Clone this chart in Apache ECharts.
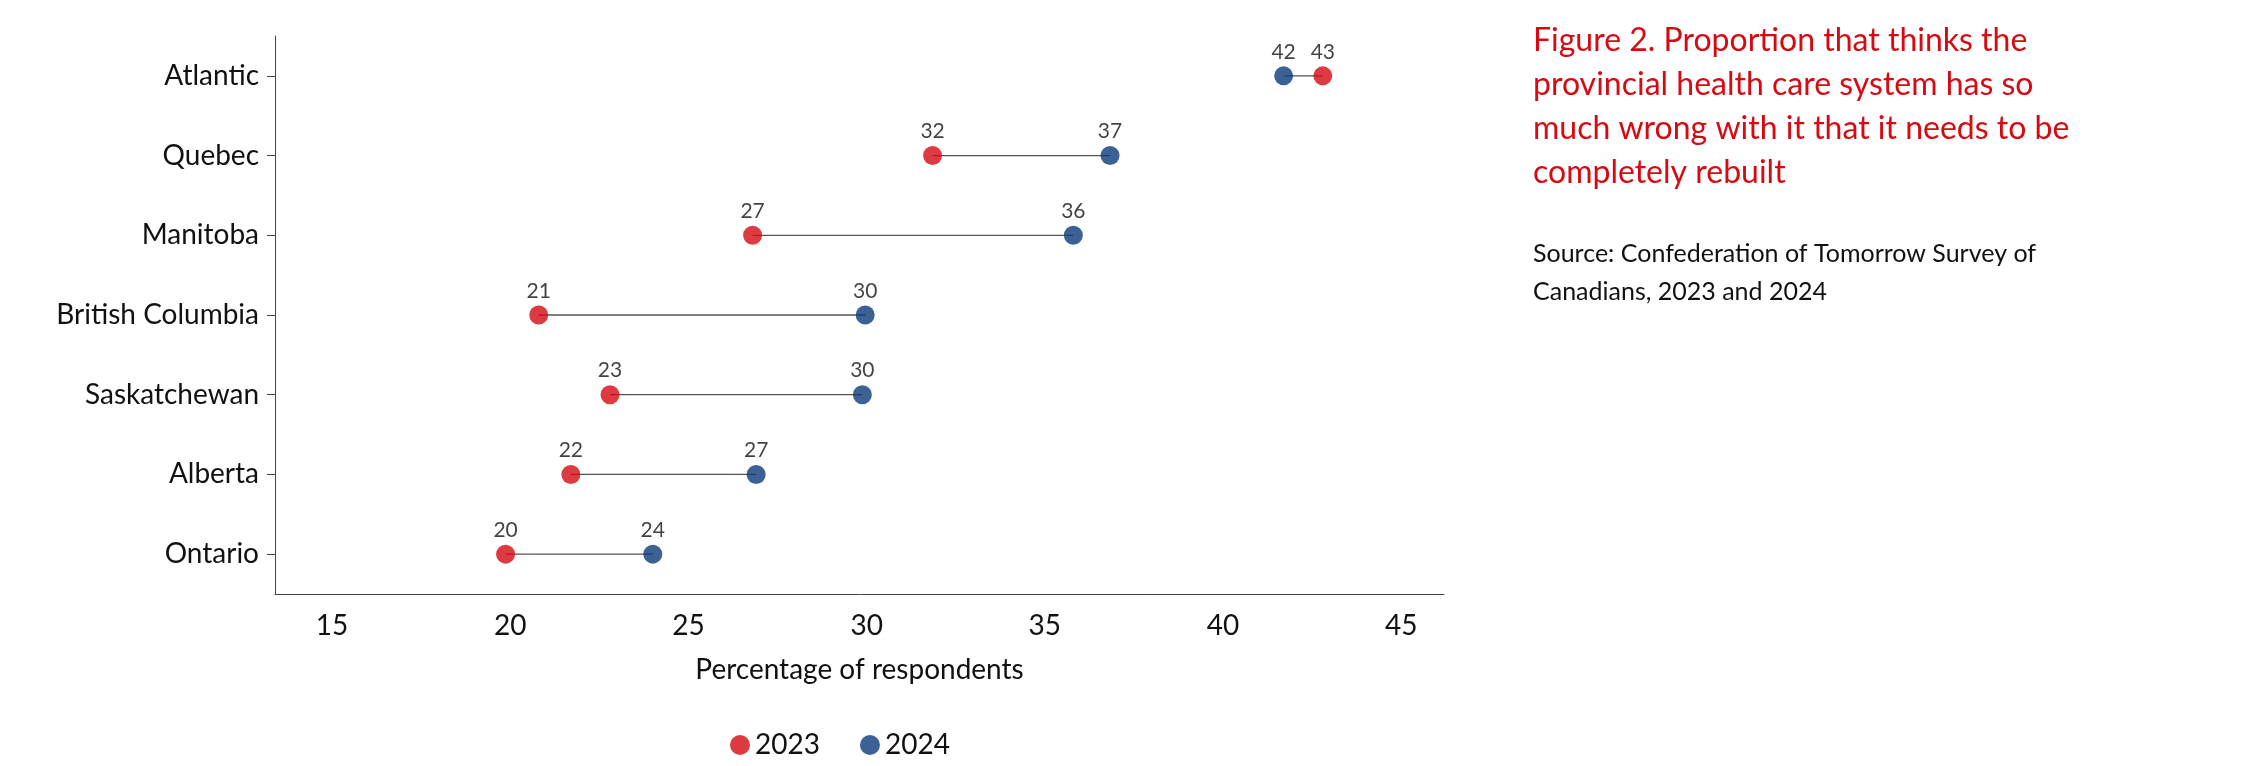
<!DOCTYPE html>
<html><head><meta charset="utf-8">
<script src="https://cdn.jsdelivr.net/npm/echarts@6/dist/echarts.min.js"></script>
<style>html,body{margin:0;padding:0;background:#fff}#c{width:2246px;height:766px}</style>
</head><body><div id="c"></div>
<script>
const categories = ['Atlantic','Quebec','Manitoba','British Columbia','Saskatchewan','Alberta','Ontario'];
const values2023 = [42.8, 31.85, 26.8, 20.8, 22.8, 21.7, 19.87];
const values2024 = [41.7, 36.83, 35.8, 29.96, 29.88, 26.9, 24.0];
const labels2023 = [43, 32, 27, 21, 23, 22, 20];
const labels2024 = [42, 37, 36, 30, 30, 27, 24];
const xTicks = [15, 20, 25, 30, 35, 40, 45];

const font = 'Lato';
const red = '#d50a12', blue = '#0a3a7a';
const series = categories.map((c, i) => ({
  type: 'line', data: [[values2023[i], c], [values2024[i], c]],
  symbol: 'none', silent: true, lineStyle: {color: '#555', width: 1.3}, z: 1
}));
function dots(name, vals, labs, color) {
  return {
    name, type: 'scatter', symbolSize: 19, itemStyle: {color}, z: 3,
    data: vals.map((v, i) => ({value: [v, categories[i]], lab: labs[i]})),
    label: {show: true, position: 'top', distance: 4, fontFamily: font, fontSize: 21, color: '#111',
      formatter: p => p.data.lab}
  };
}
series.push(dots('2023', values2023, labels2023, red));
series.push(dots('2024', values2024, labels2024, blue));

const chart = echarts.init(document.getElementById('c'));
chart.setOption({
  animation: false,
  textStyle: {fontFamily: font},
  grid: {left: 275, right: 2246 - 1444, top: 36, bottom: 766 - 594, containLabel: false},
  title: {
    text: 'Figure 2. Proportion that thinks the\nprovincial health care system has so\nmuch wrong with it that it needs to be\ncompletely rebuilt',
    subtext: 'Source: Confederation of Tomorrow Survey of\nCanadians, 2023 and 2024',
    left: 1528, top: 14, itemGap: 40,
    textStyle: {color: red, fontFamily: font, fontSize: 32, fontWeight: 'normal', lineHeight: 44},
    subtextStyle: {color: '#111', fontFamily: font, fontSize: 25, lineHeight: 38}
  },
  legend: {
    data: ['2023', '2024'], left: 725, top: 726, itemWidth: 20, itemHeight: 20, itemGap: 40,
    textStyle: {fontFamily: font, fontSize: 28, color: '#111'}
  },
  xAxis: {
    type: 'value', min: 13.4, max: 46.2,
    name: 'Percentage of respondents', nameLocation: 'middle', nameGap: 62,
    nameTextStyle: {fontFamily: font, fontSize: 28, color: '#111'},
    axisLine: {show: true, lineStyle: {color: '#444'}},
    axisTick: {show: false}, splitLine: {show: false},
    axisLabel: {customValues: xTicks, fontFamily: font, fontSize: 28, color: '#111', margin: 18}
  },
  yAxis: {
    type: 'category', data: categories, inverse: true,
    axisLine: {show: true, lineStyle: {color: '#444'}},
    axisTick: {show: true, alignWithLabel: true, length: 8, lineStyle: {color: '#444'}},
    axisLabel: {fontFamily: font, fontSize: 28, color: '#111', margin: 16}
  },
  series
});
</script></body></html>
